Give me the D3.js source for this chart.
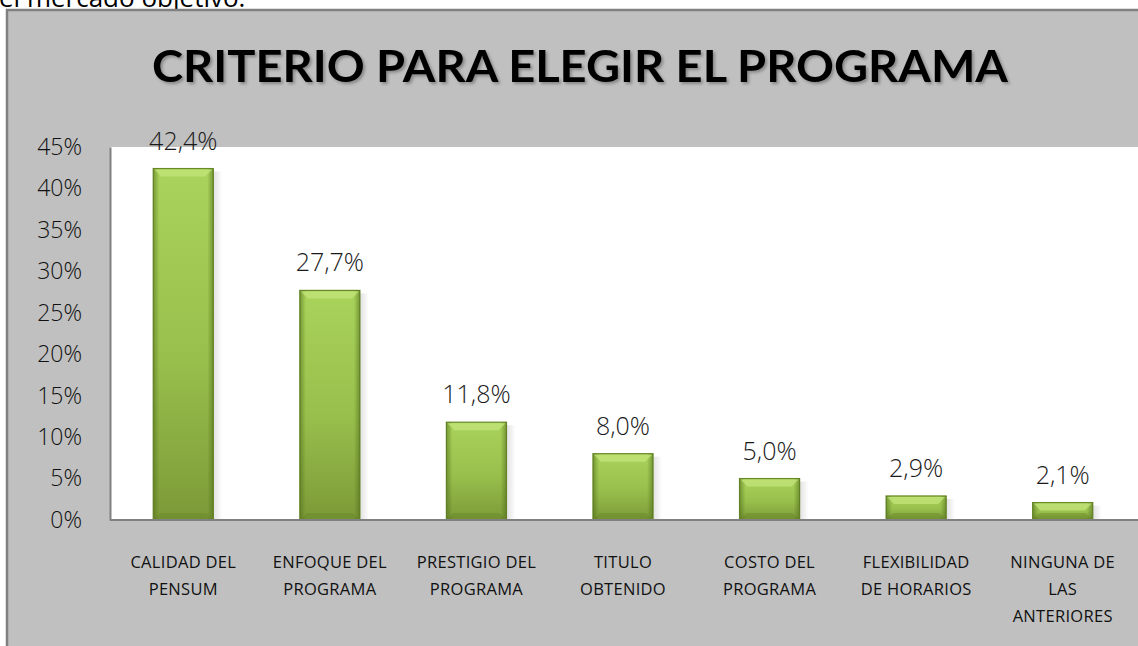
<!DOCTYPE html>
<html lang="es">
<head>
    <meta charset="UTF-8">
    <title>Criterio para elegir el programa</title>
    <script src="https://cdnjs.cloudflare.com/ajax/libs/d3/7.8.5/d3.min.js"></script>
    <style>
        body { margin: 0; background: #ffffff; }
        svg { display: block; }
        text { font-family: "Open Sans", "DejaVu Sans", sans-serif; }
    </style>
</head>
<body>
<svg id="chart" width="1138" height="646"></svg>
<script>
    // data
    const categories = [
        ["CALIDAD DEL", "PENSUM"],
        ["ENFOQUE DEL", "PROGRAMA"],
        ["PRESTIGIO DEL", "PROGRAMA"],
        ["TITULO", "OBTENIDO"],
        ["COSTO DEL", "PROGRAMA"],
        ["FLEXIBILIDAD", "DE HORARIOS"],
        ["NINGUNA DE", "LAS", "ANTERIORES"]
    ];
    const values = [42.4, 27.7, 11.8, 8.0, 5.0, 2.9, 2.1];
    const yTicks = [0, 5, 10, 15, 20, 25, 30, 35, 40, 45];
    const title = "CRITERIO PARA ELEGIR EL PROGRAMA";

    const svg = d3.select("#chart");
    const plot = {left: 110, top: 147, right: 1136, bottom: 520};

    // text of the document above the chart, cut off by the crop
    svg.append("text")
        .attr("x", -1).attr("y", 7)
        .style("font-size", "26px").style("fill", "#000")
        .text("el mercado objetivo.");

    // chart frame
    svg.append("rect")
        .attr("x", 7).attr("y", 10)
        .attr("width", 1140).attr("height", 650)
        .style("fill", "#c0c0c0")
        .style("stroke", "#808080").style("stroke-width", 2.5);

    const defs = svg.append("defs");
    const vGrad = defs.append("linearGradient").attr("id", "barV")
        .attr("x1", 0).attr("y1", 0).attr("x2", 0).attr("y2", 1);
    vGrad.append("stop").attr("offset", "0%").attr("stop-color", "#a9d35b");
    vGrad.append("stop").attr("offset", "55%").attr("stop-color", "#98bf4c");
    vGrad.append("stop").attr("offset", "100%").attr("stop-color", "#7c9a38");
    const hGrad = defs.append("linearGradient").attr("id", "barH")
        .attr("x1", 0).attr("y1", 0).attr("x2", 1).attr("y2", 0);
    hGrad.append("stop").attr("offset", "0%").attr("stop-color", "#4d6a18").attr("stop-opacity", 0.55);
    hGrad.append("stop").attr("offset", "10%").attr("stop-color", "#4d6a18").attr("stop-opacity", 0);
    hGrad.append("stop").attr("offset", "90%").attr("stop-color", "#4d6a18").attr("stop-opacity", 0);
    hGrad.append("stop").attr("offset", "100%").attr("stop-color", "#4d6a18").attr("stop-opacity", 0.55);
    const shGrad = defs.append("linearGradient").attr("id", "shadow")
        .attr("x1", 0).attr("y1", 0).attr("x2", 1).attr("y2", 0);
    shGrad.append("stop").attr("offset", "0%").attr("stop-color", "#000").attr("stop-opacity", 0.12);
    shGrad.append("stop").attr("offset", "100%").attr("stop-color", "#000").attr("stop-opacity", 0);
    const tf = defs.append("filter").attr("id", "titleShadow");
    tf.append("feDropShadow").attr("dx", 2).attr("dy", 2).attr("stdDeviation", 1.5)
        .attr("flood-color", "#000").attr("flood-opacity", 0.3);

    // title
    svg.append("text")
        .attr("x", 580).attr("y", 82)
        .attr("text-anchor", "middle")
        .attr("textLength", 856).attr("lengthAdjust", "spacingAndGlyphs")
        .attr("filter", "url(#titleShadow)")
        .style("font-family", "Lato, \"Open Sans\", sans-serif")
        .style("font-size", "44px").style("font-weight", "700").style("fill", "#000")
        .text(title);

    // plot area
    svg.append("rect")
        .attr("x", plot.left).attr("y", plot.top)
        .attr("width", 1140 - plot.left).attr("height", plot.bottom - plot.top)
        .style("fill", "#ffffff");

    const x = d3.scaleBand()
        .domain(d3.range(values.length))
        .range([plot.left, plot.right])
        .paddingInner(0.59).paddingOuter(0.295);
    const y = d3.scaleLinear().domain([0, 45]).range([plot.bottom, plot.top]);

    // y axis
    const yAxis = svg.append("g")
        .attr("transform", `translate(${plot.left},0)`)
        .call(d3.axisLeft(y).tickValues(yTicks).tickSize(0).tickPadding(28)
            .tickFormat(d => d + "%"));
    yAxis.select(".domain").attr("stroke", "#808080").attr("stroke-width", 2);
    yAxis.selectAll("text")
        .style("font-family", "\"Open Sans\", sans-serif")
        .style("font-size", "23px").style("font-weight", "300").style("fill", "#111");

    // bars
    const bars = svg.append("g").selectAll("g")
        .data(values)
        .join("g")
        .attr("transform", (d, i) => `translate(${x(i)},0)`);

    bars.append("rect")
        .attr("x", x.bandwidth()).attr("y", d => y(d) + 3)
        .attr("width", 9).attr("height", d => y(0) - y(d) - 3)
        .style("fill", "url(#shadow)");
    bars.append("rect")
        .attr("x", 0).attr("y", d => y(d))
        .attr("width", x.bandwidth()).attr("height", d => y(0) - y(d))
        .style("fill", "url(#barV)")
        .style("stroke", "#6a8a2a").style("stroke-width", 1.2);
    bars.append("rect")
        .attr("x", 0).attr("y", d => y(d))
        .attr("width", x.bandwidth()).attr("height", d => y(0) - y(d))
        .style("fill", "url(#barH)");
    // top bevel highlight
    bars.append("path")
        .attr("d", d => {
            const t = y(d), w = x.bandwidth(), b = 8;
            return `M1,${t + 1} L${w - 1},${t + 1} L${w - b},${t + b} L${b},${t + b} Z`;
        })
        .style("fill", "#c6e67e").style("opacity", 0.7);
    // bottom bevel shade
    bars.append("path")
        .attr("d", () => {
            const t = y(0), w = x.bandwidth(), b = 7;
            return `M1,${t - 1} L${w - 1},${t - 1} L${w - b},${t - b} L${b},${t - b} Z`;
        })
        .style("fill", "#5f7d22").style("opacity", 0.35);

    // value labels
    bars.append("text")
        .attr("x", x.bandwidth() / 2)
        .attr("y", d => y(d) - 19)
        .attr("text-anchor", "middle")
        .style("font-size", "25px").style("font-weight", "300").style("fill", "#1a1a1a")
        .text(d => d.toFixed(1).replace(".", ",") + "%");

    // x axis line
    svg.append("line")
        .attr("x1", plot.left).attr("x2", 1138)
        .attr("y1", plot.bottom).attr("y2", plot.bottom)
        .style("stroke", "#808080").style("stroke-width", 2);

    // category labels
    const catLabels = svg.append("g").selectAll("text")
        .data(categories)
        .join("text")
        .attr("text-anchor", "middle")
        .style("font-size", "16.5px").style("letter-spacing", "0.3px").style("fill", "#111");
    catLabels.selectAll("tspan")
        .data((d, i) => d.map(line => ({line, i})))
        .join("tspan")
        .attr("x", d => x(d.i) + x.bandwidth() / 2)
        .attr("y", (d, j) => 568 + j * 27)
        .text(d => d.line);
</script>
</body>
</html>
